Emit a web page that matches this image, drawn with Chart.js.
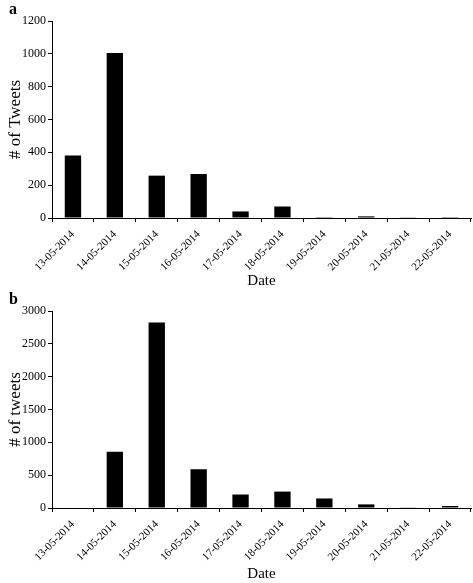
<!DOCTYPE html>
<html>
<head>
<meta charset="utf-8">
<script src="https://cdn.jsdelivr.net/npm/chart.js@4"></script>
<style>
  body { margin: 0; background: #fff; width: 473px; height: 583px; overflow: hidden; }
  .panel { position: relative; width: 473px; }
  .letter { position: absolute; left: 9px; top: 0px; font: bold 16px "Liberation Serif", serif; color: #000; }
</style>
</head>
<body>
<div class="panel" style="height:290px">
  <div class="letter">a</div>
  <canvas id="graficoA"></canvas>
</div>
<div class="panel" style="height:293px">
  <div class="letter">b</div>
  <canvas id="graficoB"></canvas>
</div>
<script>
const datas = ['13-05-2014', '14-05-2014', '15-05-2014', '16-05-2014', '17-05-2014',
               '18-05-2014', '19-05-2014', '20-05-2014', '21-05-2014', '22-05-2014'];
const tweetsA = [380, 1005, 258, 268, 40, 70, 5, 10, 2, 1];
const tweetsB = [0, 855, 2825, 590, 205, 250, 145, 55, 10, 30];

const fonte = 'Liberation Serif';

function criaGrafico(id, valores, maximo, passo, tituloY, alturaX) {
    const ctx = document.getElementById(id).getContext('2d');
    return new Chart(ctx, {
        type: 'bar',
        data: {
            labels: datas,
            datasets: [{
                data: valores,
                backgroundColor: '#000',
                borderWidth: 0,
                categoryPercentage: 1,
                barPercentage: 0.39
            }]
        },
        options: {
            responsive: true,
            maintainAspectRatio: false,
            animation: false,
            layout: { padding: { top: 21, right: 2, left: 0, bottom: 0 } },
            plugins: { legend: { display: false }, tooltip: { enabled: false } },
            scales: {
                x: {
                    offset: true,
                    grid: { display: true, offset: true, drawOnChartArea: false, color: '#000', tickLength: 4, lineWidth: 1 },
                    border: { color: '#000', width: 1 },
                    ticks: { color: '#000', font: { family: fonte, size: 11 }, minRotation: 45, maxRotation: 45, autoSkip: false, padding: 6 },
                    title: { display: true, text: 'Date', color: '#000', font: { family: fonte, size: 15 }, padding: { top: 0, bottom: 0 } },
                    afterFit: (s) => { s.height = alturaX; }
                },
                y: {
                    min: 0,
                    max: maximo,
                    grid: { display: true, drawOnChartArea: false, color: '#000', tickLength: 4 },
                    border: { color: '#000', width: 1 },
                    ticks: { stepSize: passo, color: '#000', font: { family: fonte, size: 12 }, padding: 2,
                             callback: (v) => String(v) },
                    title: { display: true, text: tituloY, color: '#000', font: { family: fonte, size: 17 }, padding: { top: 5, bottom: 0 } },
                    afterFit: (s) => { s.width = 52; }
                }
            }
        }
    });
}

document.addEventListener('DOMContentLoaded', () => {
    criaGrafico('graficoA', tweetsA, 1200, 200, '# of Tweets', 72);
    criaGrafico('graficoB', tweetsB, 3000, 500, '# of tweets', 75);
});
</script>
</body>
</html>
